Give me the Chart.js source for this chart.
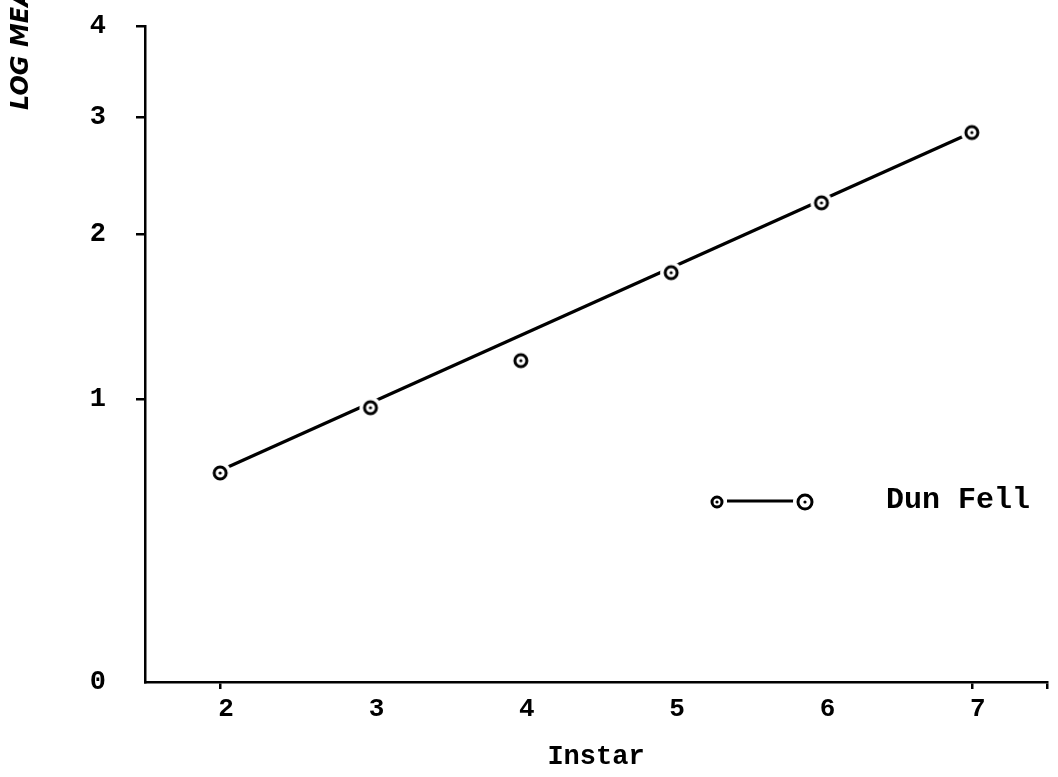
<!DOCTYPE html>
<html>
<head>
<meta charset="utf-8">
<script src="https://cdn.jsdelivr.net/npm/chart.js@4.4.1/dist/chart.umd.min.js"></script>
<style>
  html, body { margin: 0; padding: 0; background: #fff; }
  #wrap { width: 1058px; height: 777px; position: relative; }
</style>
</head>
<body>
<div id="wrap"><canvas id="instarChart"></canvas></div>
<script>
// Dun Fell: log weight by instar
const instars = [2, 3, 4, 5, 6, 7];
const logWeight = [0.67, 0.96, 1.20, 1.73, 2.24, 2.85];
// fitted line, ends at instar 2 and 7
const fitInstar = [2, 7];
const fitWeight = [0.68, 2.85];
// y axis tick labels (axis is drawn as log(value + 1))
const yTickLabels = [0, 1, 2, 3, 4];

const monoFont = "'Liberation Mono', 'DejaVu Sans Mono', monospace";

// ring-with-dot marker, with white halo so the line breaks around it
function makeMarker(r) {
    const halo = r + 5;
    const c = document.createElement('canvas');
    c.width = c.height = halo * 2 + 2;
    const ctx = c.getContext('2d');
    const m = c.width / 2;
    ctx.fillStyle = '#fff';
    ctx.beginPath(); ctx.arc(m, m, halo, 0, Math.PI * 2); ctx.fill();
    ctx.strokeStyle = '#000';
    ctx.lineWidth = 3;
    ctx.beginPath(); ctx.arc(m, m, r, 0, Math.PI * 2); ctx.stroke();
    ctx.fillStyle = '#000';
    ctx.beginPath(); ctx.arc(m, m, 1.6, 0, Math.PI * 2); ctx.fill();
    return c;
}
const marker = makeMarker(6);

const extrasPlugin = {
    id: 'extras',
    afterDraw(chart) {
        const ctx = chart.ctx;
        ctx.save();
        // y axis title, cut off at the top like the scan
        ctx.translate(28, 110);
        ctx.rotate(-Math.PI / 2);
        ctx.fillStyle = '#000';
        ctx.font = "italic bold 24px 'DejaVu Sans', sans-serif";
        ctx.textBaseline = 'alphabetic';
        ctx.textAlign = 'left';
        ctx.fillText('LOG MEAN WEIGHT', 0, 0);
        ctx.restore();

        // legend
        ctx.save();
        ctx.strokeStyle = '#000';
        ctx.lineWidth = 3.2;
        ctx.beginPath(); ctx.moveTo(727, 501); ctx.lineTo(795, 501); ctx.stroke();
        const small = makeMarker(5), big = makeMarker(7);
        ctx.drawImage(small, 717 - small.width / 2, 502 - small.height / 2);
        ctx.drawImage(big, 805 - big.width / 2, 502 - big.height / 2);
        ctx.fillStyle = '#000';
        ctx.font = 'bold 30px ' + monoFont;
        ctx.textBaseline = 'middle';
        ctx.textAlign = 'left';
        ctx.fillText('Dun Fell', 886, 500);
        ctx.restore();
    }
};

const ctx = document.getElementById('instarChart').getContext('2d');
new Chart(ctx, {
    type: 'scatter',
    data: {
        datasets: [
            {
                label: 'Dun Fell',
                data: instars.map((x, i) => ({ x: x, y: logWeight[i] + 1 })),
                pointStyle: marker,
                showLine: false,
                order: 0
            },
            {
                label: 'fit',
                data: fitInstar.map((x, i) => ({ x: x, y: fitWeight[i] + 1 })),
                showLine: true,
                borderColor: '#000',
                borderWidth: 3.2,
                pointRadius: 0,
                order: 1
            }
        ]
    },
    options: {
        responsive: true,
        maintainAspectRatio: false,
        animation: false,
        layout: { padding: { top: 26, right: 11, left: 0, bottom: 0 } },
        plugins: {
            legend: { display: false },
            tooltip: { enabled: false }
        },
        scales: {
            x: {
                type: 'linear',
                min: 1.5,
                max: 7.5,
                afterBuildTicks: s => { s.ticks = instars.concat([7.5]).map(v => ({ value: v })); },
                afterFit: s => { s.height = 95; },
                border: { display: true, color: '#000', width: 2.5 },
                grid: {
                    drawOnChartArea: false,
                    drawTicks: true,
                    tickLength: 7,
                    lineWidth: 2.5,
                    color: c => (c.tick && [2, 7, 7.5].includes(c.tick.value)) ? '#000' : 'rgba(0,0,0,0)'
                },
                ticks: {
                    color: '#000',
                    font: { family: monoFont, size: 26, weight: 'bold' },
                    padding: 5,
                    labelOffset: 6,
                    maxRotation: 0,
                    callback: v => (v === 7.5 ? '' : v)
                },
                title: {
                    display: true,
                    text: 'Instar',
                    color: '#000',
                    font: { family: monoFont, size: 27, weight: 'bold' },
                    padding: { top: 10 }
                }
            },
            y: {
                type: 'logarithmic',
                min: 1,
                max: 5,
                afterBuildTicks: s => { s.ticks = yTickLabels.map(v => ({ value: v + 1 })); },
                afterFit: s => { s.width = 145; s.paddingTop = 0; s.paddingBottom = 0; },
                border: { display: true, color: '#000', width: 2.5 },
                grid: {
                    drawOnChartArea: false,
                    drawTicks: true,
                    tickLength: 9,
                    lineWidth: 2.5,
                    color: c => (c.tick && c.tick.value > 1) ? '#000' : 'rgba(0,0,0,0)'
                },
                ticks: {
                    color: '#000',
                    font: { family: monoFont, size: 27, weight: 'bold' },
                    padding: 30,
                    callback: v => String(Math.round(v - 1))
                }
            }
        }
    },
    plugins: [extrasPlugin]
});
</script>
</body>
</html>
